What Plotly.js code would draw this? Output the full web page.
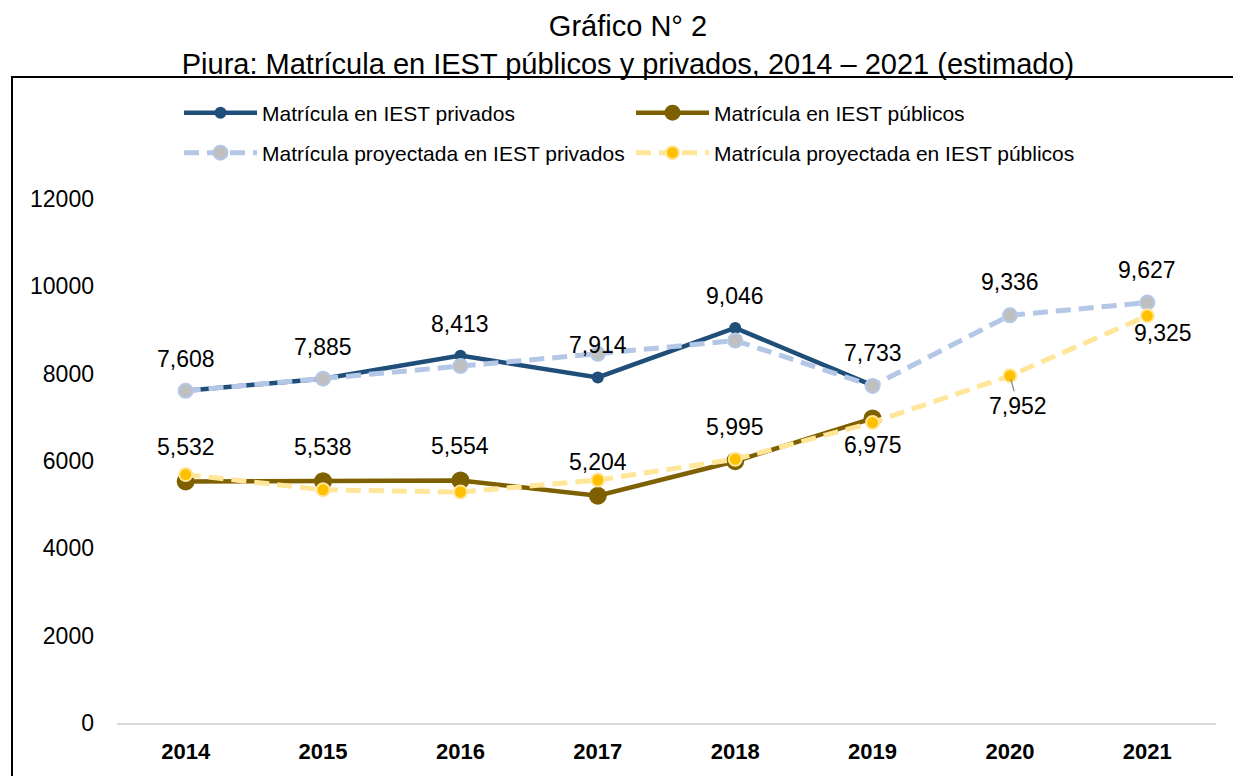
<!DOCTYPE html>
<html>
<head>
<meta charset="utf-8">
<script src="https://cdn.plot.ly/plotly-3.0.1.min.js"></script>
<style>html,body{margin:0;padding:0;background:#fff;}#chart{width:1233px;height:776px;}</style>
</head>
<body>
<div id="chart"></div>
<script>
const years = ['2014','2015','2016','2017','2018','2019','2020','2021'];
const privados = [7608, 7885, 8413, 7914, 9046, 7733, null, null];
const publicos = [5532, 5538, 5554, 5204, 5995, 6975, null, null];
const privadosProy = [7608, 7885, 8175, 8455, 8760, 7720, 9336, 9627];
const publicosProy = [5690, 5340, 5290, 5565, 6040, 6880, 7952, 9325];
const seriesNames = ['Matrícula en IEST privados', 'Matrícula en IEST públicos',
  'Matrícula proyectada en IEST privados', 'Matrícula proyectada en IEST públicos'];
const titleLines = ['Gráfico N° 2', 'Piura: Matrícula en IEST públicos y privados, 2014 – 2021 (estimado)'];
const yTicks = [0, 2000, 4000, 6000, 8000, 10000, 12000];

const FONT = 'Arial, "Liberation Sans", sans-serif';
const W = 1233, H = 776;
const M = {l: 117, r: 17, t: 199, b: 53};
const pw = W - M.l - M.r, ph = H - M.t - M.b;
const px2x = p => (p - M.l) / pw;
const px2y = p => (H - M.b - p) / ph;

const traces = [
  {x: years, y: privados, name: seriesNames[0], mode: 'lines+markers', legend: 'legend',
   line: {color: '#1F4E79', width: 4.5}, marker: {color: '#1F4E79', size: 12}},
  {x: years, y: publicos, name: seriesNames[1], mode: 'lines+markers', legend: 'legend2',
   line: {color: '#7F6000', width: 4.5}, marker: {color: '#7F6000', size: 18}},
  {x: years, y: privadosProy, name: seriesNames[2], mode: 'lines+markers', legend: 'legend3',
   line: {color: '#B4C7E7', width: 5, dash: '15px,8px'},
   marker: {color: '#BFBFBF', size: 14, line: {color: '#B4C7E7', width: 2}}},
  {x: years, y: publicosProy, name: seriesNames[3], mode: 'lines+markers', legend: 'legend4',
   line: {color: '#FFE699', width: 5, dash: '15px,8px'},
   marker: {color: '#FFC000', size: 13, line: {color: '#FFE699', width: 2}}}
];

const fmt = v => v.toLocaleString('en-US');
const annotations = [];
function addLabels(arr, idxs, opts) {
  idxs.forEach(i => {
    if (arr[i] == null) return;
    annotations.push(Object.assign({xref: 'x', yref: 'y', x: i, y: arr[i], text: fmt(arr[i]),
      showarrow: false, font: {family: FONT, size: 23, color: '#000'}}, opts(i)));
  });
}
addLabels(privados, [0,1,2,3,4,5], () => ({yshift: 32}));
addLabels(privadosProy, [6,7], () => ({yshift: 33}));
addLabels(publicos, [0,1,2,3,4], () => ({yshift: 34}));
addLabels(publicos, [5], () => ({yshift: -27}));
addLabels(publicosProy, [6], () => ({showarrow: true, ax: 8, ay: 30, arrowhead: 0,
  arrowwidth: 1.3, arrowcolor: '#8C8C8C', standoff: 4}));
addLabels(publicosProy, [7], () => ({xshift: 16, yshift: -17}));

const legendBase = {orientation: 'h', xanchor: 'left', yanchor: 'middle', bgcolor: 'rgba(0,0,0,0)',
  font: {family: FONT, size: 21, color: '#000'}, itemwidth: 73};
const layout = {
  width: W, height: H, margin: M, paper_bgcolor: '#fff', plot_bgcolor: '#fff',
  font: {family: FONT, color: '#000'},
  title: {text: titleLines.join('<br>'), font: {family: FONT, size: 29, color: '#000'},
    xref: 'container', x: 628 / W, xanchor: 'center', yref: 'container', y: 1 - 36 / H, yanchor: 'top'},
  showlegend: true,
  legend: Object.assign({}, legendBase, {x: px2x(179), y: px2y(113)}),
  legend2: Object.assign({}, legendBase, {x: px2x(631), y: px2y(113)}),
  legend3: Object.assign({}, legendBase, {x: px2x(179), y: px2y(153)}),
  legend4: Object.assign({}, legendBase, {x: px2x(631), y: px2y(153)}),
  xaxis: {type: 'category', range: [-0.5, 7.5], showgrid: false, zeroline: false,
    showline: true, linecolor: '#D9D9D9', linewidth: 2, ticks: '',
    tickfont: {family: FONT, size: 22, color: '#000', weight: 'bold'}, ticklabelstandoff: 8},
  yaxis: {range: [0, 12000], tickvals: yTicks, ticktext: yTicks.map(String), showgrid: false,
    zeroline: false, showline: false, ticks: '', tickfont: {family: FONT, size: 23, color: '#000'},
    ticklabelstandoff: 22},
  shapes: [{type: 'rect', xref: 'paper', yref: 'paper', x0: px2x(12), x1: px2x(1300),
    y0: px2y(820), y1: px2y(77), line: {color: '#000', width: 2}, fillcolor: 'rgba(0,0,0,0)', layer: 'below'}],
  annotations: annotations
};
Plotly.newPlot('chart', traces, layout, {displayModeBar: false, staticPlot: true});
</script>
</body>
</html>
